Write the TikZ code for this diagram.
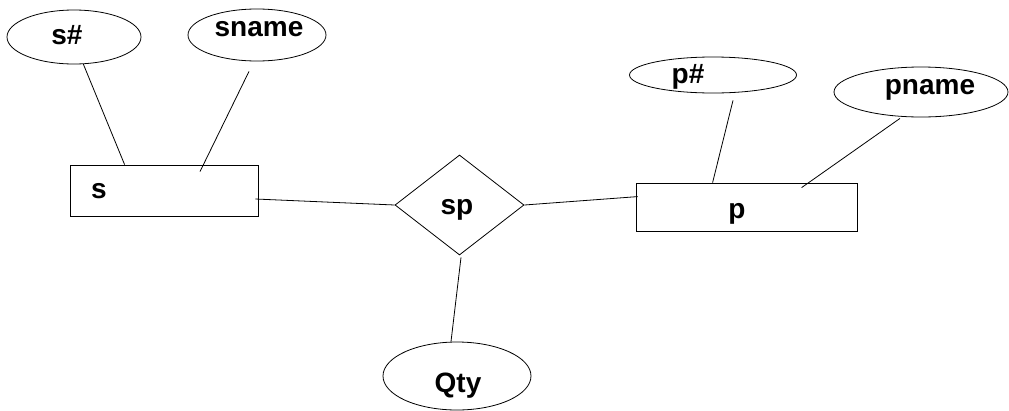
\documentclass[tikz,border=0pt]{standalone}
\usepackage{fontspec}
\setmainfont{Liberation Sans}
\usetikzlibrary{shapes.geometric}
\begin{document}
\begin{tikzpicture}[x=1pt,y=-1pt,
  attr/.style={draw, ellipse, inner sep=0pt, line width=0.8pt},
  ent/.style={draw, rectangle, inner sep=0pt, line width=0.8pt},
  rel/.style={draw, diamond, inner sep=0pt, line width=0.8pt},
  lbl/.style={font=\fontsize{28}{30}\selectfont\bfseries, inner sep=0pt},
  conn/.style={draw, line width=0.8pt}]
\useasboundingbox (0,0) rectangle (1009,410);
% entities
\node[ent, minimum width=188pt, minimum height=51pt] (s) at (164,190.5) {};
\node[lbl] (stxt) at (99,191) {s};
\node[ent, minimum width=221pt, minimum height=48pt] (p) at (746.5,207) {};
\node[lbl] (ptxt) at (737,214) {p};
% relationship
\node[rel, minimum width=129pt, minimum height=100pt] (sp) at (459.5,205) {};
\node[lbl] (sptxt) at (457,210) {sp};
% attributes
\node[attr, minimum width=134pt, minimum height=54pt] (snum) at (74,37) {};
\node[lbl] (snumtxt) at (67,35) {s\#};
\node[attr, minimum width=138pt, minimum height=52pt] (sname) at (257,35) {};
\node[lbl] (snametxt) at (259,29) {sname};
\node[attr, minimum width=167pt, minimum height=36pt] (pnum) at (713,75) {};
\node[lbl] (pnumtxt) at (688,77) {p\#};
\node[attr, minimum width=174pt, minimum height=50pt] (pname) at (921,92) {};
\node[lbl] (pnametxt) at (930,90) {pname};
\node[attr, minimum width=148pt, minimum height=68pt] (qty) at (457,376) {};
\node[lbl] (qtytxt) at (458,386) {Qty};
% connectors
\draw[conn] (snum.-71) -- ([xshift=55pt]s.north west);
\draw[conn] ([xshift=-8pt,yshift=-10pt]sname.south) -- ([xshift=36pt,yshift=-7pt]s.north);
\draw[conn] ([xshift=-3pt,yshift=-8.5pt]s.east) -- (sp.west);
\draw[conn] (sp.east) -- ([xshift=2pt,yshift=-14pt]p.north west);
\draw[conn] ([xshift=1.5pt,yshift=-2pt]sp.south) -- ([xshift=-6pt]qty.north);
\draw[conn] ([xshift=20pt,yshift=-7pt]pnum.south) -- ([xshift=77pt]p.north west);
\draw[conn] ([xshift=-21pt,yshift=-1pt]pname.south) -- ([xshift=166pt,yshift=-5pt]p.north west);
\end{tikzpicture}
\end{document}
